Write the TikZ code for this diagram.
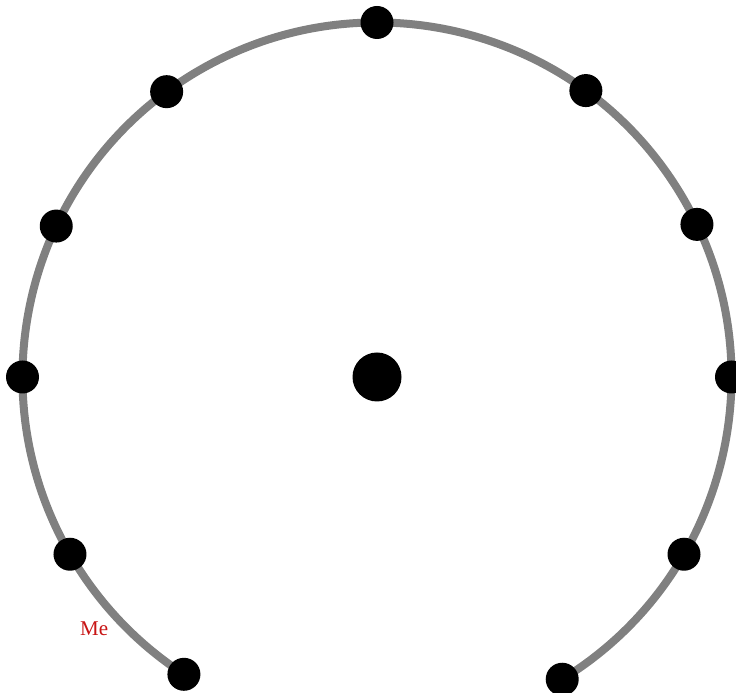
\documentclass[tikz,border=0pt]{standalone}
\usepackage{fontspec}
\setmainfont{Liberation Serif}
\definecolor{ringgray}{RGB}{128,128,128}
\definecolor{mered}{RGB}{200,20,20}
\begin{document}
\begin{tikzpicture}[x=1pt,y=1pt,
  dot/.style={circle,fill=black,inner sep=0pt,minimum size=33pt},
  bigdot/.style={circle,fill=black,inner sep=0pt,minimum size=49pt},
  ring/.style={draw=ringgray,line width=8pt}]
\useasboundingbox (0,0) rectangle (736,693);
\coordinate (c) at (377,316);
\def\R{354.5}
\draw[ring] (c) ++(-58.5:\R) arc[start angle=-58.5,end angle=237,radius=\R];
\node[bigdot] (center) at (c) {};
\path (c) ++(90:\R) node[dot] (n1) {};
\path (c) ++(126.4:\R) node[dot] (n2) {};
\path (c) ++(154.8:\R) node[dot] (n3) {};
\path (c) ++(180:\R) node[dot] (n4) {};
\path (c) ++(210:\R) node[dot] (n5) {};
\path (c) ++(237:\R) node[dot] (n6) {};
\path (c) ++(53.9:\R) node[dot] (n7) {};
\path (c) ++(25.5:\R) node[dot] (n8) {};
\path (c) ++(0:\R) node[dot] (n9) {};
\path (c) ++(-30:\R) node[dot] (n10) {};
\path (c) ++(-58.5:\R) node[dot] (n11) {};
\node[anchor=base west,inner sep=0pt,text=mered,font=\fontsize{21}{24}\selectfont] (me) at (80,57) {Me};
\end{tikzpicture}
\end{document}
